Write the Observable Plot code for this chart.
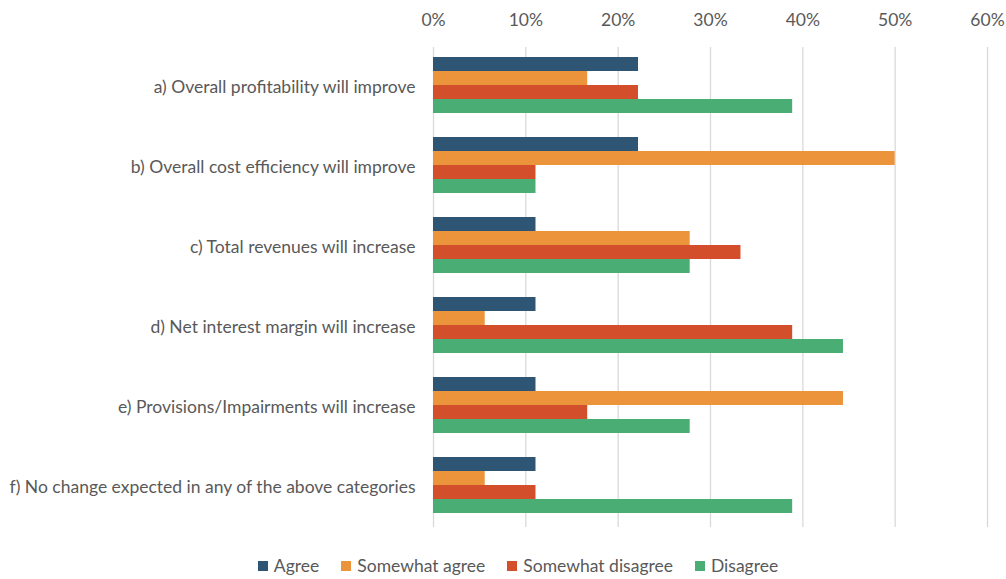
<!DOCTYPE html>
<html>
<head>
<meta charset="utf-8">
<script src="https://cdn.jsdelivr.net/npm/d3@7"></script>
<script src="https://cdn.jsdelivr.net/npm/@observablehq/plot@0.6"></script>
<style>
  body { margin: 0; background: #fff; font-family: Lato, "Open Sans", sans-serif; }
  #legend { display: flex; justify-content: center; gap: 22px; font-size: 17.5px; color: #595959; margin-top: 10px; padding-left: 30px; }
  #legend span.sw { display: inline-block; width: 10px; height: 10px; margin-right: 6px; }
  #legend div { display: flex; align-items: center; }
</style>
</head>
<body>
<div id="chart"></div>
<div id="legend"></div>
<script>
const categories = [
  "a) Overall profitability will improve",
  "b) Overall cost efficiency will improve",
  "c) Total revenues will increase",
  "d) Net interest margin will increase",
  "e) Provisions/Impairments will increase",
  "f) No change expected in any of the above categories"
];
const series = ["Agree", "Somewhat agree", "Somewhat disagree", "Disagree"];
const colors = ["#2E5574", "#EB943C", "#D34E2A", "#4AAD73"];
const agree = [22.2, 22.2, 11.1, 11.1, 11.1, 11.1];
const somewhatAgree = [16.7, 50.0, 27.8, 5.6, 44.4, 5.6];
const somewhatDisagree = [22.2, 11.1, 33.3, 38.9, 16.7, 11.1];
const disagree = [38.9, 11.1, 27.8, 44.4, 27.8, 38.9];
const xTicks = [0, 10, 20, 30, 40, 50, 60];

const valuesBySeries = [agree, somewhatAgree, somewhatDisagree, disagree];
const data = [];
categories.forEach((c, i) => {
  series.forEach((s, j) => data.push({category: c, series: s, value: valuesBySeries[j][i]}));
});

const chart = Plot.plot({
  width: 1006,
  height: 545,
  marginLeft: 433,
  marginRight: 19,
  marginTop: 46,
  marginBottom: 18,
  style: {fontFamily: "Lato, 'Open Sans', sans-serif", fontSize: "17.5px", color: "#595959"},
  x: {domain: [0, 60], label: null},
  fy: {domain: categories, padding: 0, label: null},
  y: {domain: series, axis: null, paddingInner: 0, paddingOuter: 0.85},
  color: {domain: series, range: colors},
  marks: [
    Plot.axisX({anchor: "top", ticks: xTicks, tickFormat: d => d + "%", tickSize: 0, tickPadding: 8, dy: -14, label: null}),
    Plot.axisFy({anchor: "left", tickSize: 0, tickPadding: 18, label: null}),
    Plot.ruleX(xTicks, {x: d => d, stroke: "#d9d9d9", strokeWidth: 1.3}),
    Plot.barX(data, {x: "value", y: "series", fy: "category", fill: "series", inset: 0, dy: -2})
  ]
});
document.getElementById("chart").appendChild(chart);

const legend = document.getElementById("legend");
series.forEach((s, i) => {
  const d = document.createElement("div");
  d.innerHTML = `<span class="sw" style="background:${colors[i]}"></span>${s}`;
  legend.appendChild(d);
});
</script>
</body>
</html>
